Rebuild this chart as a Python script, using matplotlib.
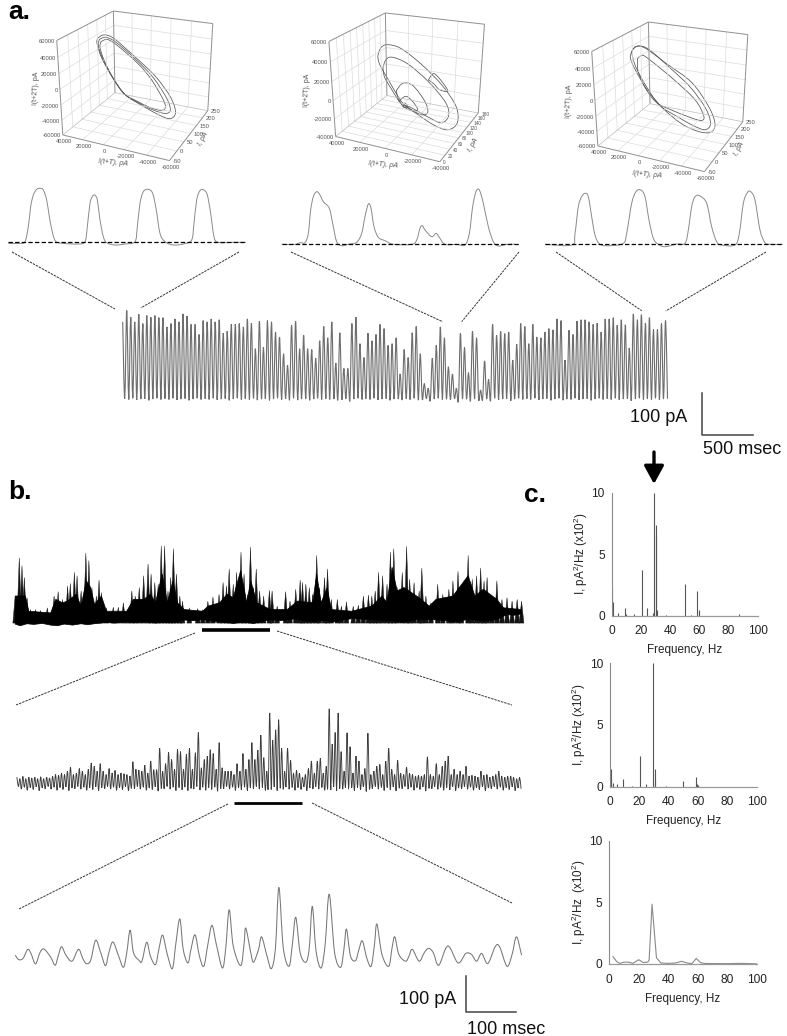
import numpy as np
import matplotlib
matplotlib.use("Agg")
import matplotlib.pyplot as plt
from matplotlib.path import Path
from matplotlib.patches import PathPatch

plt.rcParams['font.family'] = ['Liberation Sans', 'DejaVu Sans']
plt.rcParams['mathtext.default'] = 'regular'

W = 787
H = 1036

# PANEL A - SINGLE CHANNEL TRACES (X AND AMPLITUDE IN DIGITIZED UNITS)
a1_x = [25, 60, 75, 85, 92, 100, 110, 120, 130, 140, 148, 158, 168, 190, 235, 255, 262, 270, 278, 285, 292, 300, 310, 320, 345, 375, 405, 412, 420, 430, 445, 458, 468, 480, 495, 520, 550, 575, 582, 590, 600, 612, 622, 632, 642, 655, 700, 738]
a1_y = [-4, -4, 1, 46, 106, 141, 158, 161, 156, 126, 76, 26, 1, -4, -6, 1, 46, 116, 138, 140, 126, 66, 16, -2, -9, -6, 1, 46, 116, 151, 158, 146, 101, 26, 1, -9, -6, 6, 56, 126, 154, 156, 141, 86, 16, -1, -1, -1]

a2_x = [35, 75, 90, 105, 115, 122, 130, 140, 150, 160, 178, 188, 200, 215, 235, 260, 275, 285, 295, 303, 312, 325, 345, 370, 425, 440, 450, 457, 465, 485, 498, 508, 525, 560, 585, 598, 608, 618, 628, 640, 655, 670, 685, 710, 735]
a2_y = [0, 0, 5, 5, 33, 103, 143, 158, 148, 128, 108, 63, 8, -4, 0, 6, 33, 83, 121, 108, 53, 21, 11, 0, 0, 13, 48, 56, 43, 23, 33, 21, 0, 0, -2, 33, 113, 158, 163, 123, 53, 8, -5, 0, 0]

a3_x = [45, 125, 135, 145, 155, 165, 175, 185, 195, 210, 240, 280, 290, 305, 318, 332, 345, 357, 370, 385, 405, 440, 465, 475, 485, 495, 510, 530, 545, 560, 575, 615, 628, 640, 652, 662, 675, 690, 705, 720, 758]
a3_y = [0, -2, 33, 113, 143, 153, 143, 83, 28, 0, -4, 3, 33, 123, 158, 163, 143, 73, 18, 0, -7, 1, 3, 43, 113, 143, 145, 123, 53, 8, -2, -2, 33, 123, 155, 158, 133, 43, 5, 0, 0]

# PANEL A - LONG TRACE PEAKS, PA
long_peaks = [179, 206, 190, 179, 197, 175, 194, 190, 194, 189, 189, 167, 175, 186, 179, 198, 193, 173, 173, 149,
              182, 179, 186, 179, 184, 152, 157, 173, 173, 175, 167, 186, 176, 115, 181, 119, 182, 179, 155, 143,
              103, 76, 171, 181, 115, 147, 115, 113, 92, 134, 168, 141, 179, 81, 153, 68, 68, 175, 190, 127,
              94, 152, 134, 149, 173, 163, 123, 127, 141, 55, 113, 94, 153, 168, 103, 32, 21, 92, 123, 167,
              141, 72, 55, 21, 152, 118, 58, 157, 141, 17, 86, 42, 173, 147, 156, 151, 155, 88, 126, 175,
              168, 127, 173, 143, 141, 155, 163, 160, 186, 182, 88, 159, 149, 181, 184, 184, 179, 173, 176, 155,
              186, 186, 189, 171, 184, 172, 117, 198, 184, 196, 176, 189, 161, 161, 175, 182]
long_troughs = [-4, -6, -3, -7, -5, -4, -8, -5, -3, -6]

# PANEL A - PHASE PORTRAITS, I(t+T) AND I(t+2T) IN PA
p1_x = [[30430, 23830, 13930, -5870, -25670, -40520, -45470, -40520, -29000, -12470, 4030, 17230, 27130, 31090, 30430],
        [28450, 22180, 12280, -7520, -24020, -37220, -40520, -35570, -24020, -9170, 4690, 16570, 26140, 29770, 28450],
        [27130, 20530, 10630, -9170, -22370, -33920, -35570, -30620, -20720, -7520, 4690, 15580, 24490, 28120, 27130]]
p1_z = [[43930, 49520, 46810, 28030, 7160, -16900, -36000, -45800, -43400, -35100, -24800, -2600, 20000, 37100, 43930],
        [42900, 46700, 42600, 24000, 4500, -20000, -34600, -40000, -38600, -32500, -23900, -3900, 19400, 35100, 42900],
        [40000, 44300, 38500, 19600, 1300, -22600, -33300, -37200, -35900, -30600, -23900, -5400, 16900, 32300, 40000]]

p2_x = [[25850, 23180, 17840, 7160, -8860, -24880, -35560, -36900, -30220, -19540, -6190, 3150, 8490, 17840, 24510, 25850],
        [21840, 19170, 13830, 1820, -14200, -27550, -30220, -24880, -14200, -850, 7160, 15170, 20510, 21840],
        [11160, 5820, -2190, -11530, -14200, -8860, 1820, 8490, 11160],
        [8490, 3150, -2190, -6190, -850, 5820, 8490],
        [5820, 4490, 2350, 3150, 5560, 5820],
        [-14200, -18210, -24880, -28890, -22550, -18210, -14200]]
p2_z = [[30600, 39900, 44300, 42400, 28900, 10100, -9600, -27000, -37000, -35100, -26600, -19900, -12800, 7100, 22000, 30600],
        [18800, 28100, 31800, 27300, 12000, -7100, -21000, -30700, -27000, -20200, -18000, -3200, 8300, 18800],
        [-4300, 5300, 4800, -9700, -21700, -26100, -20700, -16400, -4300],
        [-14600, -8500, -13000, -21300, -23800, -20200, -14600],
        [-18800, -16400, -18300, -21300, -21300, -18800],
        [13800, 21500, 13600, 5300, 5600, 10800, 13800]]

p3_x = [[32080, 27130, 17230, -4220, -27320, -43820, -49760, -45470, -33920, -17420, 730, 17230, 28780, 32740, 32080],
        [30430, 23830, 13930, -5870, -25670, -40520, -45470, -40520, -29000, -12470, 4030, 17230, 27130, 31090, 30430],
        [25480, 20530, 12280, -10820, -30620, -38870, -37220, -27320, -7520, 7330, 18880, 25480, 25480]]
p3_z = [[38200, 48000, 47600, 31300, 13100, -15000, -36200, -48000, -50100, -44000, -28100, -5700, 18900, 31600, 38200],
        [43930, 49520, 46810, 28030, 7160, -16900, -36000, -45800, -43400, -35100, -24800, -2600, 20000, 37100, 43930],
        [32900, 38100, 32900, 12500, -8500, -27000, -34100, -33500, -28000, -21700, -3800, 17300, 32900]]

p1_xticks = [40000, 20000, 0, -20000, -40000, -60000]
p1_iticks = [-50, 0, 50, 100, 150, 200, 250]
p1_zticks = [-60000, -40000, -20000, 0, 20000, 40000, 60000]

p2_xticks = [40000, 20000, 0, -20000, -40000]
p2_iticks = [0, 20, 40, 60, 80, 100, 120, 140, 160, 180]
p2_zticks = [-40000, -20000, 0, 20000, 40000, 60000]

# PANEL B - TOP TRACE ENVELOPE (X AND AMPLITUDE IN DIGITIZED UNITS)
top_spike_x = [45, 57, 65, 72, 80, 90, 105, 120, 140, 160, 172, 185, 200, 208, 220, 228, 240, 254, 263, 272, 285, 293, 300, 315, 335, 350, 365, 378, 390, 400, 412, 425, 438, 447, 458, 468, 477, 487, 497, 505, 513, 522, 532, 540, 560, 585, 600, 615, 630, 648, 660, 670, 678, 690, 700, 713, 722, 732, 741, 750, 758, 768, 780, 797, 805, 820, 845, 858, 875, 888, 895, 905, 915, 925, 937, 945, 960, 969, 980, 998, 1010, 1025, 1045, 1060, 1075, 1090, 1100, 1110, 1120, 1132, 1145, 1155, 1165, 1175, 1190, 1203, 1212, 1225, 1240, 1248, 1260, 1275, 1295, 1310, 1328, 1340, 1355, 1365, 1385, 1397, 1410, 1422, 1432, 1441, 1455, 1470, 1485, 1500, 1515, 1530, 1543]
top_spike_y = [80, 193, 170, 135, 75, 40, 40, 37, 45, 80, 93, 70, 110, 117, 150, 140, 95, 207, 185, 105, 80, 127, 90, 45, 47, 47, 60, 40, 95, 80, 105, 140, 175, 145, 120, 115, 228, 228, 95, 135, 220, 145, 80, 65, 45, 43, 40, 65, 77, 85, 120, 110, 160, 115, 150, 210, 145, 85, 225, 105, 160, 95, 80, 97, 95, 50, 93, 65, 100, 127, 120, 115, 105, 85, 200, 105, 135, 160, 70, 70, 50, 63, 50, 53, 80, 83, 80, 95, 150, 140, 115, 210, 220, 105, 150, 227, 130, 120, 95, 163, 80, 60, 115, 85, 100, 125, 153, 110, 200, 130, 140, 163, 125, 135, 80, 125, 70, 75, 65, 70, 65]
top_core_x = [45, 75, 85, 150, 165, 185, 200, 225, 240, 255, 268, 280, 300, 315, 375, 395, 425, 445, 460, 480, 495, 512, 525, 545, 600, 615, 650, 672, 690, 712, 730, 742, 760, 800, 850, 880, 925, 937, 950, 968, 980, 1040, 1100, 1130, 1145, 1160, 1175, 1195, 1240, 1270, 1290, 1340, 1385, 1405, 1430, 1470, 1490, 1543]
top_core_y = [80, 80, 35, 30, 70, 60, 65, 85, 50, 125, 105, 55, 80, 35, 35, 70, 70, 85, 60, 145, 60, 125, 60, 40, 35, 50, 60, 85, 75, 155, 60, 125, 60, 40, 40, 65, 60, 145, 60, 105, 40, 35, 50, 80, 60, 165, 95, 105, 75, 50, 70, 80, 140, 80, 100, 70, 45, 40]
top_low_x = [45, 60, 80, 100, 125, 150, 170, 190, 215, 240, 260, 285, 310, 340, 370, 400, 430, 460, 480, 510, 545, 575, 600, 630, 660, 690, 720, 750, 800, 830, 870, 900, 930, 960, 990, 1040, 1080, 1120, 1160, 1190, 1230, 1280, 1320, 1350, 1390, 1430, 1470, 1500, 1520, 1543]
top_low_y = [-3, -8, -2, -4, -1, -6, -8, -3, -6, -2, -5, -1, 2, 0, 4, 2, 5, 0, 3, 1, 9, 7, 10, 6, 3, -1, 3, -1, 10, 7, 12, 7, 5, 8, 4, 13, 11, 9, 7, 2, 10, 10, 7, 4, 12, 6, 10, 25, 23, 27]

# PANEL B - MIDDLE TRACE PEAKS, PA
mid_peaks = [29, 25, 31, 25, 29, 27, 29, 25, 30, 25, 29, 27,
             31, 36, 34, 40, 36, 45, 56, 36, 40, 52, 45, 36, 50,
             67, 58, 45, 65, 45, 36, 52, 40, 47, 36, 40, 38, 36, 32, 70, 50, 48, 45, 61, 40, 72, 49, 49, 106, 45,
             65, 95, 76, 50, 103, 97, 50, 90, 106, 50, 94, 148, 54, 76, 85, 102, 92, 50, 121, 54, 45, 45, 45, 36,
             65, 45, 92, 50, 76, 121, 76, 101, 141, 81, 45, 200, 128, 155, 182, 106, 45, 106, 74, 40, 47, 40, 29,
             36, 52, 72, 40, 72, 79, 40, 58, 211, 117, 148, 200, 97, 45, 147, 110, 40, 85, 72, 36, 52, 146, 36, 45,
             58, 63, 36, 72, 106, 50, 36, 74, 40, 36, 56, 40, 36, 32, 34, 32, 36, 83, 36, 32, 65, 36, 58, 72, 85,
             36, 50, 36, 45, 36, 58, 32, 34, 32, 29, 45, 34, 36, 29, 32, 36, 45, 32, 29, 32, 32, 29, 25, 29]
mid_troughs = [4, -3, 2, -6, 1, -4, 3, -7, 0, -2]

# PANEL B - BOTTOM TRACE (X AND AMPLITUDE IN DIGITIZED UNITS)
bot_x = [45, 55, 68, 82, 92, 105, 118, 130, 150, 163, 172, 182, 195, 213, 232, 245, 255, 268, 283, 298, 312, 322, 334, 350, 365, 375, 385, 395, 412, 420, 434, 445, 460, 470, 481, 495, 510, 520, 532, 542, 556, 565, 577, 590, 603, 615, 627, 640, 658, 668, 678, 690, 712, 722, 727, 742, 750, 765, 774, 790, 803, 815, 825, 838, 855, 865, 875, 888, 905, 915, 924, 935, 950, 962, 974, 990, 1008, 1018, 1025, 1037, 1052, 1062, 1072, 1085, 1098, 1108, 1115, 1130, 1150, 1160, 1168, 1180, 1200, 1210, 1220, 1240, 1255, 1268, 1282, 1298, 1325, 1355, 1378, 1395, 1410, 1425, 1443, 1465, 1478, 1500, 1515, 1528, 1543]
bot_y = [38, 25, 28, 55, 42, 12, 45, 56, 32, 8, 35, 63, 38, 20, 55, 28, 13, 22, 82, 45, 7, 45, 77, 38, 2, 45, 112, 45, 22, 20, 76, 35, 10, 55, 97, 40, -2, 70, 145, 55, 15, 55, 98, 35, 5, 70, 126, 70, 0, 60, 172, 65, 7, 70, 118, 45, 17, 55, 92, 35, -2, 60, 238, 60, 5, 70, 150, 45, 17, 60, 182, 50, 0, 70, 218, 45, 2, 60, 115, 35, 22, 55, 80, 30, 5, 70, 130, 40, 5, 60, 92, 40, 20, 35, 55, 20, 45, 58, 45, 8, 65, 15, 43, 40, 20, 43, 13, 63, 63, 5, 40, 92, 38]

# PANEL C - SPECTRA
spec1_f = [0.5, 1.2, 4.5, 8.8, 10, 15, 20.5, 24.5, 28, 29.2, 30, 30.5, 31, 37, 50, 54, 58.7, 59.5, 60, 87]
spec1_p = [2.4, 1.1, 0.25, 0.6, 0.15, 0.12, 3.7, 0.65, 0.2, 10, 7.4, 6.6, 0.5, 0.05, 2.55, 0.08, 2.0, 0.45, 0.4, 0.1]
spec2_f = [0.4, 1, 2, 4.5, 8.8, 15, 20.5, 24.5, 29, 30.5, 31, 38, 50, 58.5, 59.5, 60]
spec2_p = [1.45, 0.6, 0.3, 0.2, 0.6, 0.07, 2.45, 0.25, 10, 1.4, 0.6, 0.08, 0.5, 0.8, 0.25, 0.15]
spec3_f = [2.5, 5, 7, 10, 13, 16, 20, 23, 26, 27, 29, 32, 35, 40, 45, 49, 53, 56, 59, 62, 65, 80, 90, 100]
spec3_p = [0.6, 0.2, 0.05, 0.15, 0.15, 0.05, 0.35, 0.12, 0.15, 0.3, 4.85, 0.5, 0.08, 0.05, 0.08, 0.22, 0.08, 0.03, 0.45, 0.1, 0.04, 0.03, 0.05, 0.01]

spec_xticks = [0, 20, 40, 60, 80, 100]
spec_yticks = [0, 5, 10]

fig = plt.figure(figsize=(W / 100, H / 100), dpi=100)


def panel(x, y, w, h):
    # AXES AT A PIXEL RECTANGLE OF THE FIGURE
    ax = fig.add_axes([x / W, 1 - (y + h) / H, w / W, h / H])
    ax.axis("off")
    return ax


def zigzag(peaks, troughs):
    # ONE PEAK THEN ONE TROUGH, ONE CYCLE PER INDEX
    peaks = np.array(peaks)
    low = np.resize(troughs, len(peaks))
    xs = np.arange(len(peaks) * 2) / 2
    ys = np.ravel(np.column_stack((peaks, low)))
    return xs, ys


def smooth(ax, xs, ys, color, lw):
    # BEZIER CURVE THROUGH THE READ POINTS
    pts = np.column_stack((xs, ys)).astype(float)
    n = len(pts)
    verts = [pts[0]]
    codes = [Path.MOVETO]
    for i in range(n - 1):
        p0 = pts[max(i - 1, 0)]
        p1 = pts[i]
        p2 = pts[i + 1]
        p3 = pts[min(i + 2, n - 1)]
        verts += [p1 + (p2 - p0) / 6, p2 - (p3 - p1) / 6, p2]
        codes += [Path.CURVE4, Path.CURVE4, Path.CURVE4]
    ax.add_patch(PathPatch(Path(verts, codes), fill=False, edgecolor=color, lw=lw))


# OVERLAY FOR 3D BOXES, CONNECTORS AND SCALE BARS
over = fig.add_axes([0, 0, 1, 1])
over.set_xlim(0, W)
over.set_ylim(H, 0)
over.axis("off")


def fit_camera(world, pixels):
    # PROJECTIVE CAMERA FROM BOX CORNERS
    rows = []
    for (a, b, c), (u, v) in zip(world, pixels):
        rows.append([a, b, c, 1, 0, 0, 0, 0, -u * a, -u * b, -u * c, -u])
        rows.append([0, 0, 0, 0, a, b, c, 1, -v * a, -v * b, -v * c, -v])
    return np.linalg.svd(np.array(rows))[2][-1].reshape(3, 4)


def draw_box(corners, xticks, iticks, zticks, xs, zs, i_level, labels, i_size=4.2):
    xmax, xmin = xticks[0], xticks[-1]
    imin, imax = iticks[0], iticks[-1]
    zmin, zmax = zticks[0], zticks[-1]

    def unit(x, i, z):
        return ((xmax - np.asarray(x, float)) / (xmax - xmin),
                (np.asarray(i, float) - imin) / (imax - imin),
                (np.asarray(z, float) - zmin) / (zmax - zmin))

    world = [unit(xmax, imin, zmin), unit(xmin, imin, zmin), unit(xmin, imax, zmin),
             unit(xmax, imax, zmin), unit(xmax, imin, zmax), unit(xmax, imax, zmax),
             unit(xmin, imax, zmax)]
    cam = fit_camera(world, corners)

    def project(x, i, z):
        a, b, c = unit(x, i, z)
        d = cam[2, 0] * a + cam[2, 1] * b + cam[2, 2] * c + cam[2, 3]
        u = (cam[0, 0] * a + cam[0, 1] * b + cam[0, 2] * c + cam[0, 3]) / d
        v = (cam[1, 0] * a + cam[1, 1] * b + cam[1, 2] * c + cam[1, 3]) / d
        return u, v

    def seg(p, q, color, lw):
        u0, v0 = project(*p)
        u1, v1 = project(*q)
        over.plot([u0, u1], [v0, v1], color=color, lw=lw, solid_capstyle="butt")

    grid = "#dcdcdc"
    for t in xticks[1:-1]:
        seg((t, imin, zmin), (t, imax, zmin), grid, 0.5)
        seg((t, imax, zmin), (t, imax, zmax), grid, 0.5)
    for t in iticks[1:-1]:
        seg((xmin, t, zmin), (xmax, t, zmin), grid, 0.5)
        seg((xmax, t, zmin), (xmax, t, zmax), grid, 0.5)
    for t in zticks[1:-1]:
        seg((xmax, imin, t), (xmax, imax, t), grid, 0.5)
        seg((xmax, imax, t), (xmin, imax, t), grid, 0.5)

    edge = "#909090"
    seg((xmax, imin, zmin), (xmin, imin, zmin), edge, 0.7)
    seg((xmin, imin, zmin), (xmin, imax, zmin), edge, 0.7)
    seg((xmin, imax, zmin), (xmax, imax, zmin), "#bbbbbb", 0.5)
    seg((xmax, imax, zmin), (xmax, imin, zmin), "#bbbbbb", 0.5)
    seg((xmax, imin, zmin), (xmax, imin, zmax), edge, 0.7)
    seg((xmax, imin, zmax), (xmax, imax, zmax), edge, 0.7)
    seg((xmax, imax, zmax), (xmin, imax, zmax), edge, 0.7)
    seg((xmin, imax, zmax), (xmin, imax, zmin), edge, 0.7)
    seg((xmax, imax, zmax), (xmax, imax, zmin), edge, 0.7)

    for lx, lz in zip(xs, zs):
        u, v = project(lx, np.full(len(lx), i_level), lz)
        smooth(over, u, v, "#555555", 0.55)

    tick_color = "#555555"
    for t in xticks:
        u, v = project(t, imin, zmin)
        over.text(u + 1, v + 7, str(t), fontsize=4.2, color=tick_color, ha="center", va="center")
    for t in iticks:
        u, v = project(xmin, t, zmin)
        over.text(u + 3, v + 1, str(t), fontsize=i_size, color=tick_color, ha="left", va="center")
    for t in zticks:
        u, v = project(xmax, imin, t)
        over.text(u - 2, v + 1, str(t), fontsize=4.2, color=tick_color, ha="right", va="center")

    zpos, xpos, ipos = labels
    over.text(zpos[0], zpos[1], "I(t+2T), pA", fontsize=5, color=tick_color, rotation=88, ha="center", va="center")
    over.text(xpos[0], xpos[1], "I(t+T), pA", fontsize=5, color=tick_color, rotation=-5, ha="center", va="center", style="italic")
    over.text(ipos[0], ipos[1], "I, pA", fontsize=5, color=tick_color, rotation=62, ha="center", va="center", style="italic")


draw_box([(63, 135), (169, 161), (208, 110), (115, 93), (57, 40), (113, 11), (213, 24)],
         p1_xticks, p1_iticks, p1_zticks, p1_x, p1_z, 100,
         ((36, 88), (113, 163), (203, 139)))
draw_box([(335.7, 136), (440, 162), (478.3, 112.7), (386.7, 96), (328.7, 41.7), (385.7, 12.7), (484.3, 24.3)],
         p2_xticks, p2_iticks, p2_zticks, p2_x, p2_z, 90,
         ((306.7, 90), (383, 165), (473, 145)), i_size=3.4)
draw_box([(598, 146), (704, 172), (743, 121), (650, 104), (592, 51), (648, 22), (748, 35)],
         p1_xticks, p1_iticks, p1_zticks, p3_x, p3_z, 100,
         ((569, 101), (647, 175), (739, 149)))

# PANEL A SMALL TRACES
trace_gray = "#8a8a8a"
for (px, pw, ux, uy, lo, hi, base_top) in [(0, 270, a1_x, a1_y, 25, 738, 726),
                                           (270, 260, a2_x, a2_y, 35, 750, 733),
                                           (530, 257, a3_x, a3_y, 45, 760, 733)]:
    ax = panel(px, 0, pw, 260)
    ax.set_xlim(0, pw * 3)
    ax.set_ylim(base_top - 780, base_top)
    smooth(ax, ux, uy, trace_gray, 0.7)
    ax.hlines(0, lo, hi, color="black", lw=0.9, linestyles=(0, (3.5, 1.8)))

# PANEL A LONG TRACE
ax = panel(110, 300, 570, 110)
period_ms = 39.4
ax.set_xlim(-124.5, 5461)
ax.set_ylim(-31, 231)
xs, ys = zigzag(long_peaks, long_troughs)
smooth(ax, xs * period_ms, ys, "#6e6e6e", 0.8)

# PANEL B TOP TRACE
ax = panel(0, 530, 530, 110)
ax.set_xlim(0, 1568)
ax.set_ylim(-50, 275)
spike_w = 7
for sx, sy in zip(top_spike_x, top_spike_y):
    ax.fill([sx - spike_w, sx, sx + spike_w], [0, sy, 0], color="#141414", lw=0.3)
ax.fill(top_core_x + top_low_x[::-1], top_core_y + top_low_y[::-1], color="black", lw=0.5)

# PANEL B MIDDLE TRACE
ax = panel(0, 690, 530, 120)
ax.set_xlim(-5.68, 172.5)
ax.set_ylim(-58.5, 261)
xs, ys = zigzag(mid_peaks, mid_troughs)
smooth(ax, xs, ys, "#3c3c3c", 0.65)

# PANEL B BOTTOM TRACE
ax = panel(0, 880, 530, 156)
ax.set_xlim(0, 1568)
ax.set_ylim(-201, 260)
smooth(ax, bot_x, bot_y, "#777777", 0.75)

# CONNECTORS
dash = (0, (2.5, 1))
connectors = [((12, 252), (115, 309)), ((239, 252), (140.7, 308)),
              ((291, 252), (442.7, 321.7)), ((519, 252), (461.7, 321.7)),
              ((556, 252), (641.7, 310.7)), ((766, 252), (665.7, 311)),
              ((195, 633), (16, 705)), ((277, 631), (512, 705)),
              ((228, 804), (19, 909)), ((312, 803), (512, 903))]
for p, q in connectors:
    over.plot([p[0], q[0]], [p[1], q[1]], color="#333333", lw=0.7, linestyle=dash)

# TIME BARS
over.plot([202, 270], [630, 630], color="black", lw=2.6, solid_capstyle="butt")
over.plot([234, 302], [803, 803], color="black", lw=2.0, solid_capstyle="butt")

# SCALE BARS
over.plot([702, 702, 753], [393, 435, 435], color="#444444", lw=1.1)
over.plot([466, 466, 516], [976, 1012, 1012], color="#444444", lw=1.1)
over.text(687, 417, "100 pA", fontsize=13, color="#111111", ha="right", va="center")
over.text(703, 450, "500 msec", fontsize=13, color="#111111", ha="left", va="center")
over.text(456, 999, "100 pA", fontsize=13, color="#111111", ha="right", va="center")
over.text(467, 1029, "100 msec", fontsize=13, color="#111111", ha="left", va="center")

# PANEL LETTERS
for label, lx, ly in [("a.", 8, 12), ("b.", 8, 492), ("c.", 524, 495)]:
    over.text(lx, ly, label, fontsize=19, fontweight="bold", ha="left", va="center")

# ARROW OVER FIRST SPECTRUM
over.annotate("", xy=(654, 484), xytext=(654, 452),
              arrowprops=dict(arrowstyle="-|>,head_width=0.3,head_length=0.55", color="black", lw=2.4,
                              mutation_scale=20, shrinkA=0, shrinkB=0))

# PANEL C SPECTRA
spectra = [(611.7, 492.7, 146, 123, spec1_f, spec1_p, "vlines", "I, pA$^2$/Hz (x10$^2$)"),
           (610, 663, 146.7, 123.7, spec2_f, spec2_p, "vlines", "I, pA$^2$/Hz (x10$^2$)"),
           (609.3, 840.7, 147.4, 123.3, spec3_f, spec3_p, "line", "I, pA$^2$/Hz  (x10$^2$)")]
for sx, sy, sw, sh, freq, power, kind, ylab in spectra:
    ax = fig.add_axes([sx / W, 1 - (sy + sh) / H, sw / W, sh / H])
    ax.patch.set_alpha(0)
    if kind == "vlines":
        ax.vlines(freq, 0, power, color="#555555", lw=0.8)
    else:
        ax.plot(freq, power, color="#8a8a8a", lw=0.8)
    ax.set_xlim(0, 100)
    ax.set_ylim(0, 10)
    ax.set_xticks(spec_xticks)
    ax.set_yticks(spec_yticks)
    ax.tick_params(length=0, labelsize=8.6, pad=7, labelcolor="#222222")
    ax.tick_params(axis="y", pad=5)
    ax.spines["top"].set_visible(False)
    ax.spines["right"].set_visible(False)
    ax.spines["left"].set_color("#8a8a8a")
    ax.spines["bottom"].set_color("#999999")
    ax.spines["left"].set_linewidth(0.8)
    ax.spines["bottom"].set_linewidth(0.9)
    ax.set_xlabel("Frequency, Hz", fontsize=8.4, color="#222222", labelpad=5)
    ax.set_ylabel(ylab, fontsize=8.4, color="#222222", labelpad=1)

fig.savefig("out.png", dpi=100, facecolor="white")
plt.close(fig)
